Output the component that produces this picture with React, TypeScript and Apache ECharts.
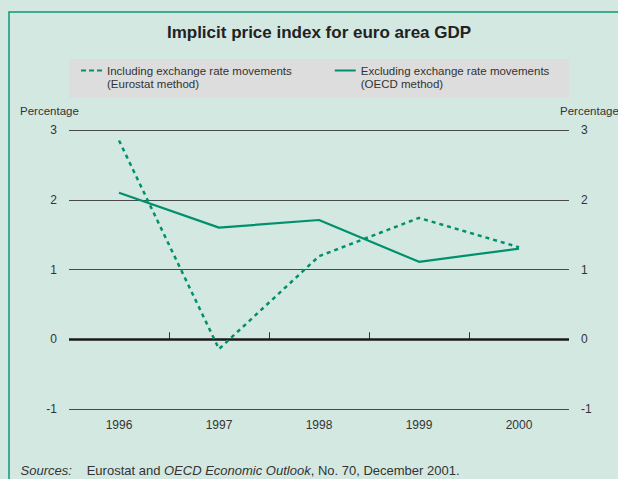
import { useEffect, useRef } from "react";
import * as echarts from "echarts";

const years = ["1996", "1997", "1998", "1999", "2000"];
const innerYears = ["1997", "1998", "1999"];
const includingFx = [2.85, -0.14, 1.19, 1.74, 1.32];
const excludingFx = [2.1, 1.6, 1.71, 1.11, 1.3];
const seriesNames = ["Including exchange rate movements", "Excluding exchange rate movements"];
const seriesMethods = ["(Eurostat method)", "(OECD method)"];
const yMin = -1;
const yMax = 3;
const yStep = 1;

const FONT = "'Liberation Sans', Arial, Helvetica, sans-serif";
const GREEN = "#00916c";
const TEXT = "#333333";

export default function App() {
  const ref = useRef<HTMLDivElement>(null);
  useEffect(() => {
    document.body.style.margin = "0";
    if (!ref.current) return;
    const chart = echarts.init(ref.current, null, { renderer: "svg" });
    const option: any = {
      animation: false,
      backgroundColor: "#d3e8e1",
      textStyle: { fontFamily: FONT, color: TEXT },
      title: {
        text: "Implicit price index for euro area GDP",
        left: 319,
        top: 24,
        padding: 0,
        textAlign: "center",
        textStyle: { fontFamily: FONT, fontSize: 17, fontWeight: "bold", color: "#222" },
      },
      legend: {
        left: 80,
        top: 51,
        padding: 0,
        itemWidth: 21,
        itemHeight: 14,
        itemGap: 42,
        data: [
          { name: seriesNames[0], lineStyle: { type: [5, 3] } },
          { name: seriesNames[1] },
        ],
        itemStyle: { color: "rgba(0,0,0,0)", borderColor: "rgba(0,0,0,0)", borderWidth: 0 },
        formatter: (name: string) => "\n" + name + "\n" + seriesMethods[seriesNames.indexOf(name)],
        textStyle: { fontFamily: FONT, fontSize: 11.5, color: TEXT, lineHeight: 13 },
      },
      grid: [
        { left: 69, right: 49, top: 130, bottom: 70 },
        { left: 169, right: 149, top: 130, bottom: 70 },
      ],
      xAxis: [
        {
          type: "category",
          gridIndex: 0,
          data: years,
          boundaryGap: true,
          axisLine: { show: false },
          axisTick: { show: false },
          axisLabel: { fontFamily: FONT, fontSize: 12, color: TEXT, margin: 10 },
        },
        {
          type: "category",
          gridIndex: 1,
          data: innerYears,
          boundaryGap: true,
          axisLine: { show: false },
          axisLabel: { show: false },
          axisTick: { show: true, inside: true, length: 7, lineStyle: { color: "#333", width: 1 } },
          splitLine: { show: false },
        },
      ],
      yAxis: [
        {
          type: "value",
          gridIndex: 0,
          position: "left",
          min: yMin,
          max: yMax,
          interval: yStep,
          axisLine: { show: false },
          axisTick: { show: false },
          axisLabel: { fontFamily: FONT, fontSize: 12, color: TEXT, margin: 12, padding: [0, 0, 8, 0] },
          splitLine: { show: true, lineStyle: { color: "#4a4a4a", width: 1 } },
        },
        {
          type: "value",
          gridIndex: 0,
          position: "right",
          min: yMin,
          max: yMax,
          interval: yStep,
          axisLine: { show: false },
          axisTick: { show: false },
          axisLabel: { fontFamily: FONT, fontSize: 12, color: TEXT, margin: 12, padding: [0, 0, 8, 0] },
          splitLine: { show: false },
        },
        {
          type: "value",
          gridIndex: 1,
          min: yMin,
          max: yMax,
          show: false,
        },
      ],
      series: [
        {
          name: seriesNames[0],
          type: "line",
          xAxisIndex: 0,
          yAxisIndex: 0,
          data: includingFx,
          symbol: "none",
          lineStyle: { color: GREEN, width: 2.5, type: [4, 4] },
          itemStyle: { color: GREEN },
          z: 3,
        },
        {
          name: seriesNames[1],
          type: "line",
          xAxisIndex: 0,
          yAxisIndex: 0,
          data: excludingFx,
          symbol: "none",
          lineStyle: { color: GREEN, width: 2.2, type: "solid" },
          itemStyle: { color: GREEN },
          z: 3,
          markLine: {
            silent: true,
            symbol: "none",
            label: { show: false },
            lineStyle: { color: "#1a1a1a", width: 2.5, type: "solid" },
            data: [{ yAxis: 0 }],
            z: 2,
          },
        },
      ],
      graphic: [
        {
          type: "rect",
          z: -10,
          shape: { x: 9, y: 12, width: 700, height: 600 },
          style: { fill: "none", stroke: "#0f9676", lineWidth: 1.5 },
        },
        {
          type: "rect",
          z: -5,
          shape: { x: 69, y: 59, width: 500, height: 39 },
          style: { fill: "#dcdddc" },
        },
        {
          type: "text",
          x: 20,
          y: 111,
          style: { text: "Percentage", fontFamily: FONT, fontSize: 11.5, fill: TEXT, verticalAlign: "middle", align: "left" },
        },
        {
          type: "text",
          x: 560,
          y: 111,
          style: { text: "Percentage", fontFamily: FONT, fontSize: 11.5, fill: TEXT, verticalAlign: "middle", align: "left" },
        },
        {
          type: "text",
          x: 20.5,
          y: 470,
          style: { text: "Sources:", fontFamily: FONT, fontSize: 13, fontStyle: "italic", fill: TEXT, verticalAlign: "middle", align: "left" },
        },
        {
          type: "text",
          x: 86.7,
          y: 470,
          style: {
            text: "Eurostat and {i|OECD Economic Outlook}, No. 70, December 2001.",
            fontFamily: FONT,
            fontSize: 13,
            fill: TEXT,
            verticalAlign: "middle",
            align: "left",
            rich: { i: { fontFamily: FONT, fontSize: 13, fontStyle: "italic", fill: TEXT } },
          },
        },
      ],
    };
    chart.setOption(option);
    return () => chart.dispose();
  }, []);
  return <div ref={ref} style={{ position: "absolute", left: 0, top: 0, width: 618, height: 479 }} />;
}
